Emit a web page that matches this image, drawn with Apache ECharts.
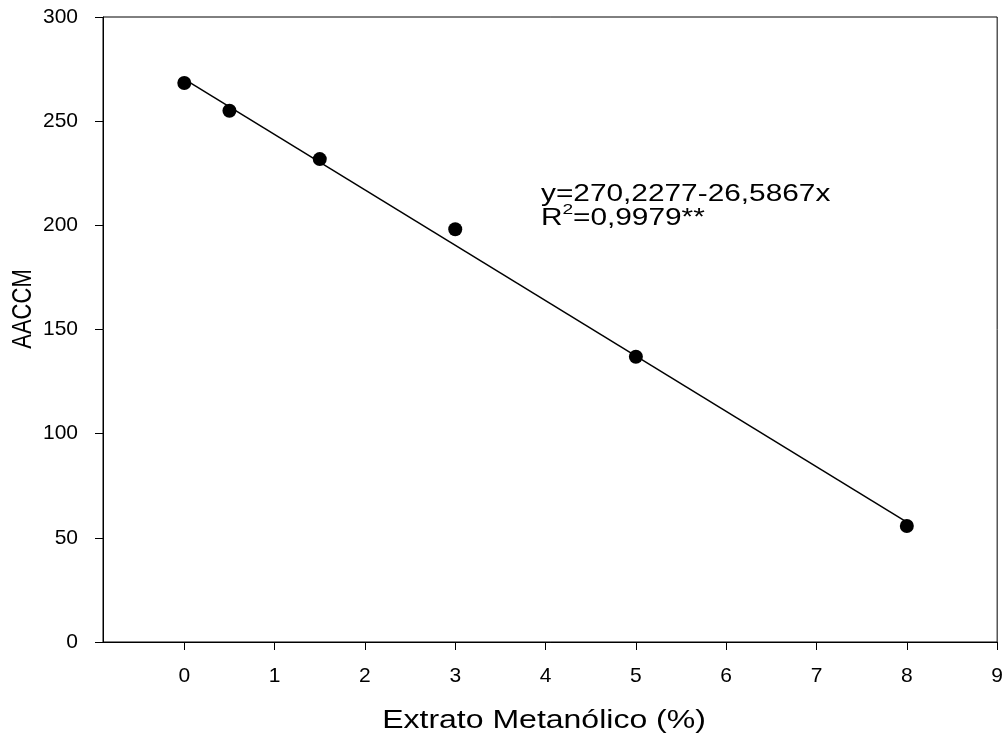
<!DOCTYPE html>
<html>
<head>
<meta charset="utf-8">
<script src="https://cdn.jsdelivr.net/npm/echarts@6/dist/echarts.min.js"></script>
<style>
    html, body { margin: 0; padding: 0; background: #fff; }
    #chart { width: 1006px; height: 742px; }
</style>
</head>
<body>
<div id="chart"></div>
<script>
// pontos medidos
var xValues = [0, 0.5, 1.5, 3, 5, 8];
var yValues = [268.3, 255.0, 231.8, 198.1, 136.9, 55.7];
// reta ajustada (extremos)
var fitX = [0, 8];
var fitY = [270.23, 57.53];
var xTicks = [0, 1, 2, 3, 4, 5, 6, 7, 8, 9];

var points = xValues.map(function (x, i) { return [x, yValues[i]]; });
var fitLine = fitX.map(function (x, i) { return [x, fitY[i]]; });

var font = 'Arial, "Liberation Sans", sans-serif';
var stretch = 1.28;   // o texto do original e mais largo que alto

var myChart = echarts.init(document.getElementById('chart'));
var option = {
    backgroundColor: '#fff',
    animation: false,
    grid: {
        show: true,
        left: 103,
        right: 8,
        top: 17,
        bottom: 100,
        borderColor: '#000',
        borderWidth: 1
    },
    xAxis: {
        type: 'value',
        min: -0.9,
        max: 9,
        axisLine: { show: true, onZero: false, lineStyle: { color: '#000', width: 1 } },
        axisTick: { show: true, length: 8, customValues: xTicks, lineStyle: { color: '#000' } },
        axisLabel: { customValues: xTicks, color: '#000', fontSize: 21, fontFamily: font, margin: 24 },
        splitLine: { show: false }
    },
    yAxis: {
        type: 'value',
        min: 0,
        max: 300,
        interval: 50,
        axisLine: { show: true, onZero: false, lineStyle: { color: '#000', width: 1 } },
        axisTick: { show: true, length: 8, lineStyle: { color: '#000' } },
        axisLabel: { color: '#000', fontSize: 21, fontFamily: font, margin: 25 },
        splitLine: { show: false }
    },
    graphic: [
        // titulo do eixo x
        {
            type: 'text', x: 544, y: 721, scaleX: stretch,
            style: { text: 'Extrato Metanólico (%)', fill: '#000', font: '25px ' + font,
                     align: 'center', verticalAlign: 'middle' }
        },
        // titulo do eixo y
        {
            type: 'text', x: 23, y: 309, rotation: Math.PI / 2, scaleY: stretch,
            style: { text: 'AACCM', fill: '#000', font: '22px ' + font,
                     align: 'center', verticalAlign: 'middle' }
        },
        // equacao
        {
            type: 'text', x: 541, y: 195, scaleX: stretch,
            style: { text: 'y=270,2277-26,5867x', fill: '#000', font: '23.3px ' + font,
                     align: 'left', verticalAlign: 'middle' }
        },
        {
            type: 'text', x: 541, y: 219, scaleX: stretch,
            style: { text: 'R', fill: '#000', font: '23.3px ' + font, align: 'left', verticalAlign: 'middle' }
        },
        {
            type: 'text', x: 562.5, y: 210, scaleX: stretch,
            style: { text: '2', fill: '#000', font: '15px ' + font, align: 'left', verticalAlign: 'middle' }
        },
        {
            type: 'text', x: 573, y: 219, scaleX: stretch,
            style: { text: '=0,9979**', fill: '#000', font: '23.3px ' + font, align: 'left', verticalAlign: 'middle' }
        }
    ],
    series: [
        {
            name: 'ajuste',
            type: 'line',
            data: fitLine,
            symbol: 'none',
            lineStyle: { color: '#000', width: 1.5 },
            z: 2
        },
        {
            name: 'AACCM',
            type: 'scatter',
            data: points,
            symbol: 'circle',
            symbolSize: 14,
            itemStyle: { color: '#000', opacity: 1 },
            z: 3
        }
    ]
};
myChart.setOption(option);
</script>
</body>
</html>
